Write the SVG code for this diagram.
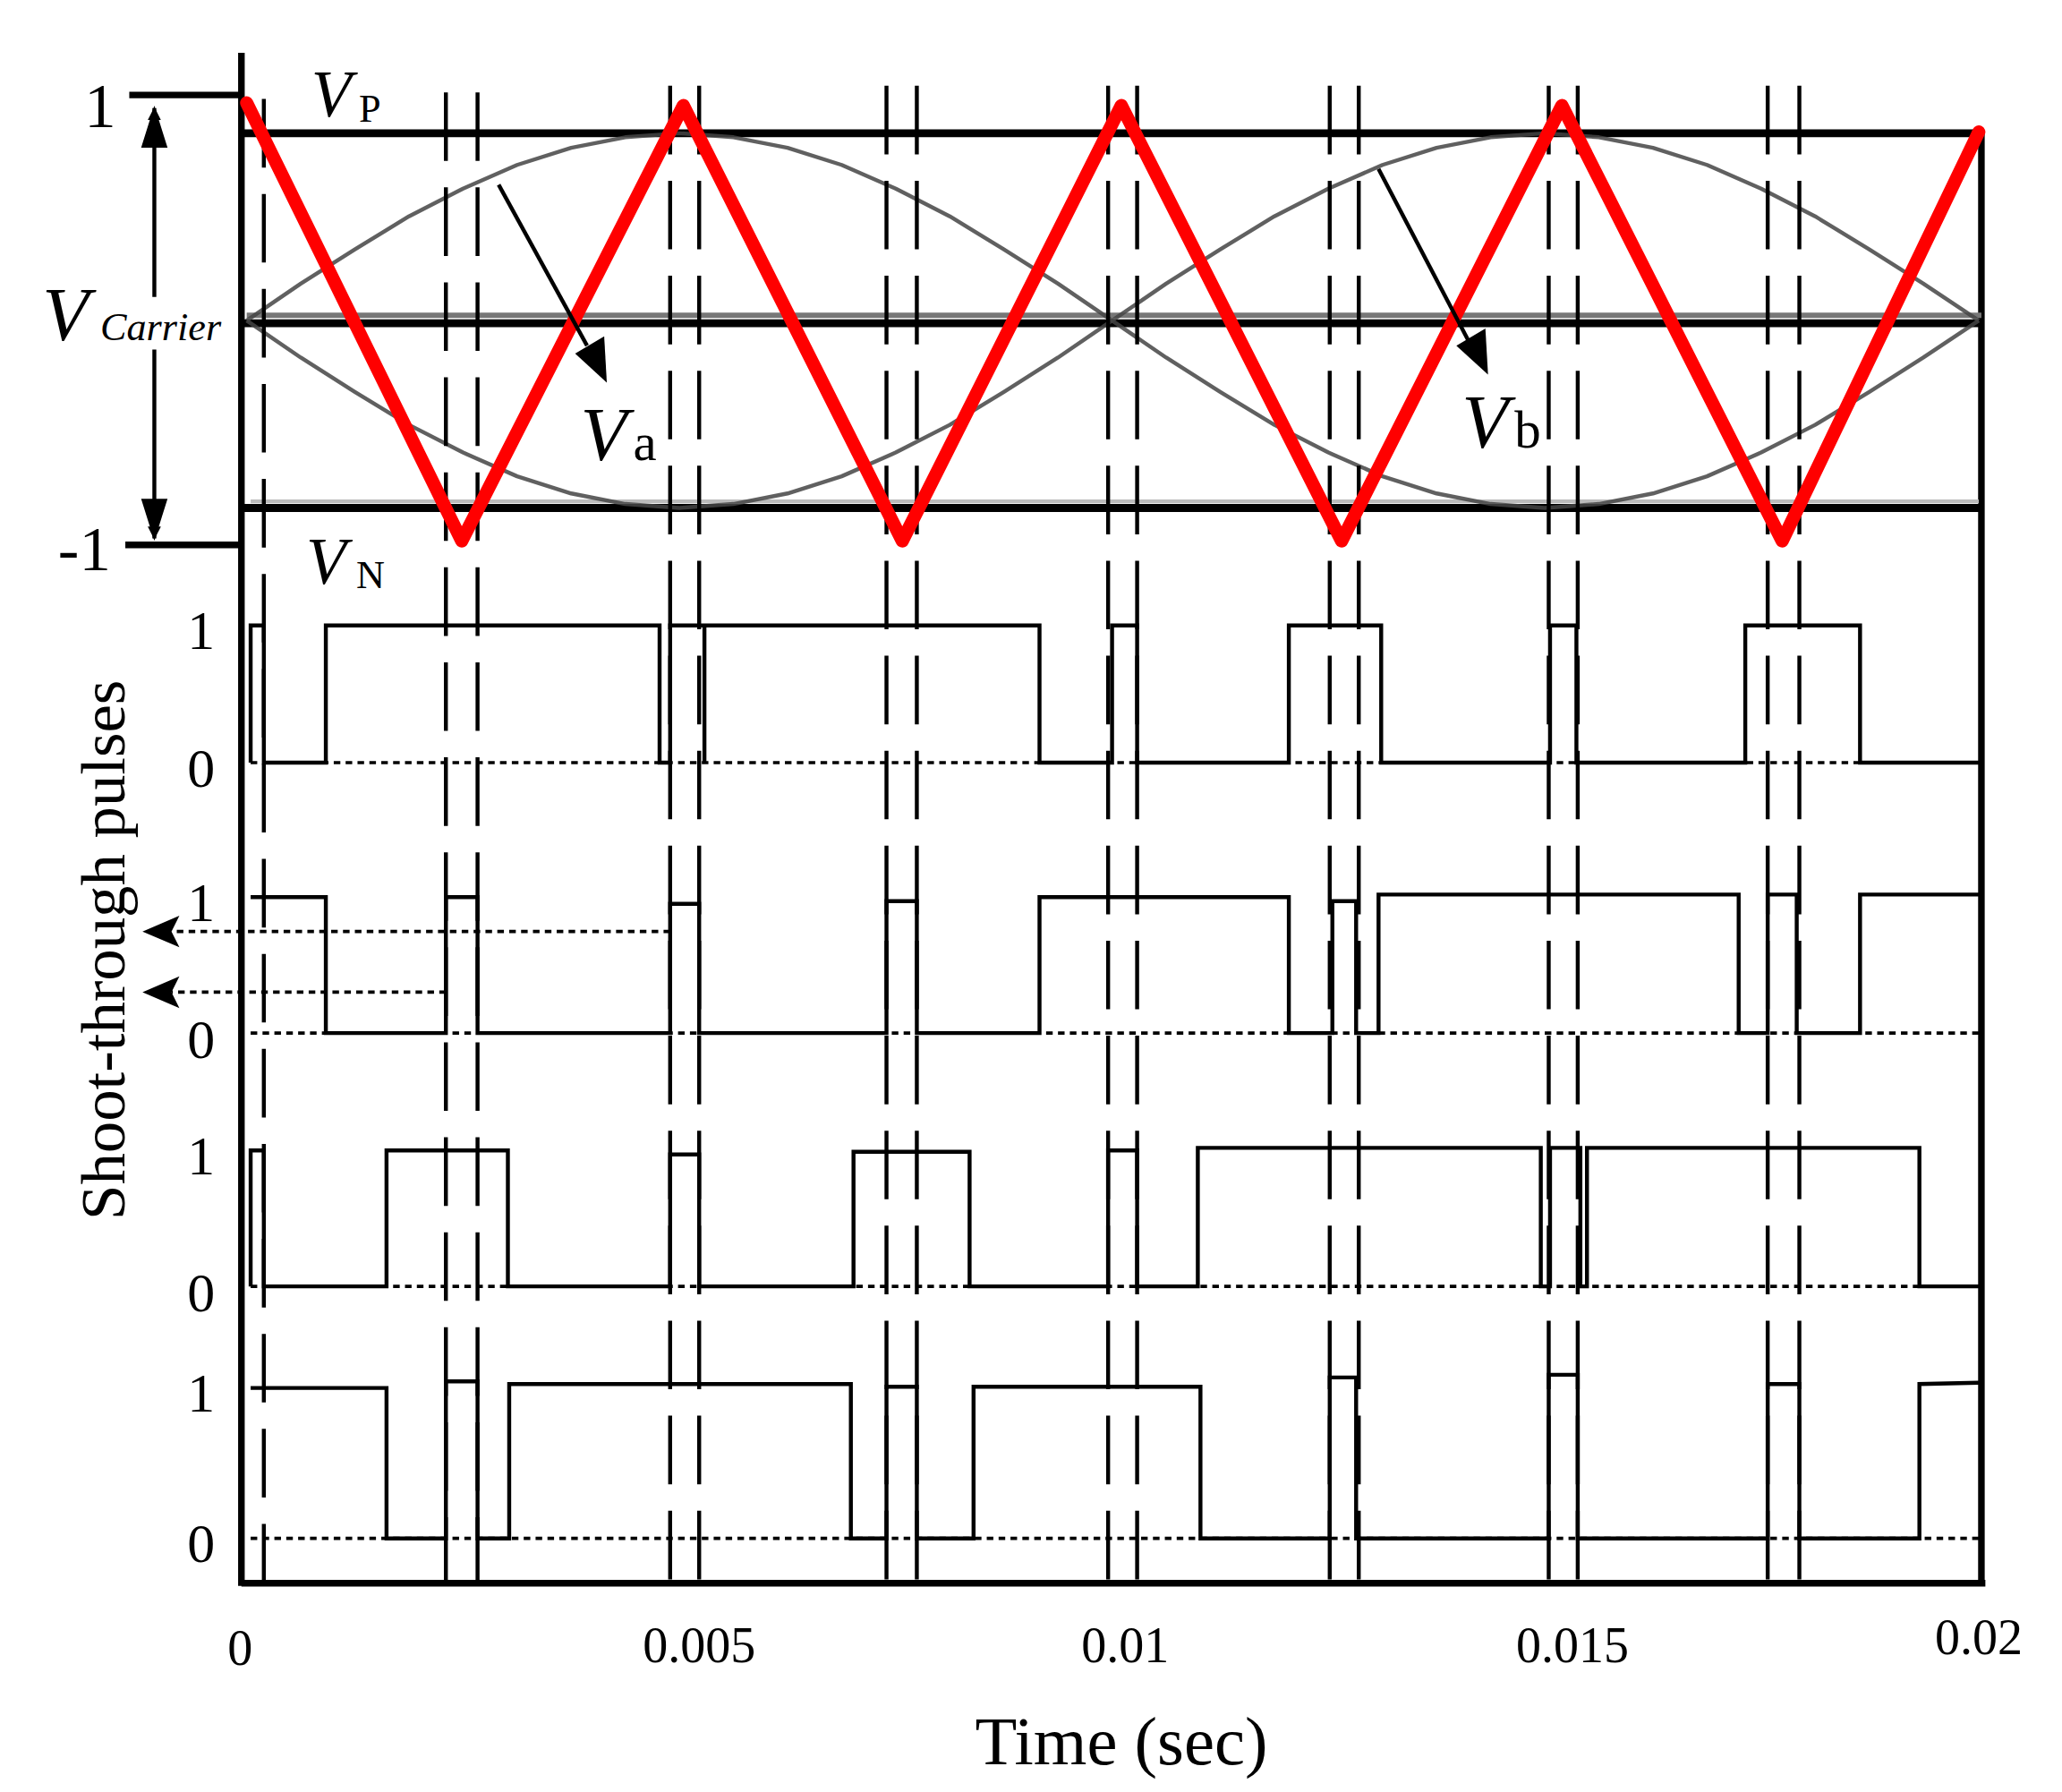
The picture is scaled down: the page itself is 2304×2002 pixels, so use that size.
<svg xmlns="http://www.w3.org/2000/svg" width="2304" height="2002" viewBox="0 0 2304 2002">
<style>
.ax{stroke:#000;stroke-width:5;fill:none}
.thk{stroke:#000;stroke-width:6;fill:none}
.dash{stroke:#000;stroke-width:3;stroke-dasharray:52 20;fill:none}
.dot{stroke:#000;stroke-width:2.5;stroke-dasharray:5 4;fill:none}
.pl{stroke:#000;stroke-width:3;fill:none;stroke-linejoin:miter}
.sine{stroke:#444;stroke-width:3;fill:none;opacity:0.85;stroke-linejoin:round}
.tx{font-family:"Liberation Serif",serif;fill:#000}
.it{font-family:"Liberation Serif",serif;font-style:italic;fill:#000}
</style>
<defs>
<marker id="ah" markerWidth="10" markerHeight="10" refX="9" refY="5" orient="auto" markerUnits="userSpaceOnUse" viewBox="0 0 10 10"><path d="M0,0 L10,5 L0,10 z" fill="#000"/></marker>
</defs>
<rect width="2304" height="2002" fill="#fff"/>
<g transform="scale(1.474)">
<g id="axes">
<line class="ax" x1="183" y1="40" x2="183" y2="1202"/>
<line class="ax" x1="1502" y1="100" x2="1502" y2="1202"/>
<line class="ax" x1="183" y1="1200" x2="1505" y2="1200"/>
<line class="thk" x1="183" y1="101" x2="1502" y2="101"/>
<line stroke="#777" stroke-width="4" x1="187" y1="239" x2="1502" y2="239"/>
<line class="thk" x1="183" y1="245" x2="1502" y2="245"/>
<line stroke="#bbb" stroke-width="3" x1="190" y1="380" x2="1500" y2="380"/>
<line class="thk" x1="183" y1="385" x2="1502" y2="385"/>
<line class="ax" x1="98" y1="72" x2="183" y2="72"/>
<line class="ax" x1="95" y1="413" x2="183" y2="413"/>
</g>
<g id="sines">
<polyline class="sine" points="187,243 228,215 269,189 310,164 351,143 392,125 433,112 474,104 515,101 556,104 597,112 638,125 679,143 720,164 761,189 802,215 843,243 884,271 925,297 966,322 1007,343 1048,361 1089,374 1130,382 1171,385 1212,382 1253,374 1294,361 1335,343 1376,322 1417,297 1458,271 1500,243"/>
<polyline class="sine" points="187,243 228,271 269,297 310,322 351,343 392,361 433,374 474,382 515,385 556,382 597,374 638,361 679,343 720,322 761,297 802,271 843,243 884,215 925,189 966,164 1007,143 1048,125 1089,112 1130,104 1171,101 1212,104 1253,112 1294,125 1335,143 1376,164 1417,189 1458,215 1500,243"/>
</g>
<g id="dashes">
<line class="dash" x1="200" y1="75" x2="200" y2="1200"/>
<line class="dash" x1="338" y1="70" x2="338" y2="1200"/><line class="dash" x1="362" y1="70" x2="362" y2="1200"/>
<line class="dash" x1="508" y1="65" x2="508" y2="1200"/><line class="dash" x1="530" y1="65" x2="530" y2="1200"/>
<line class="dash" x1="672" y1="65" x2="672" y2="1200"/><line class="dash" x1="695" y1="65" x2="695" y2="1200"/>
<line class="dash" x1="840" y1="65" x2="840" y2="1200"/><line class="dash" x1="862" y1="65" x2="862" y2="1200"/>
<line class="dash" x1="1008" y1="65" x2="1008" y2="1200"/><line class="dash" x1="1030" y1="65" x2="1030" y2="1200"/>
<line class="dash" x1="1174" y1="65" x2="1174" y2="1200"/><line class="dash" x1="1196" y1="65" x2="1196" y2="1200"/>
<line class="dash" x1="1340" y1="65" x2="1340" y2="1200"/><line class="dash" x1="1364" y1="65" x2="1364" y2="1200"/>
</g>
<g id="carrier">
<polyline points="187,78 350,410 518,80 684,410 850,80 1017,410 1184,80 1351,410 1500,100" fill="none" stroke="#f00" stroke-width="10" stroke-linejoin="round" stroke-linecap="round"/>
</g>
<g id="pulses">
<line class="dot" x1="190" y1="578" x2="1500" y2="578"/>
<line class="dot" x1="190" y1="783" x2="1500" y2="783"/>
<line class="dot" x1="190" y1="975" x2="1500" y2="975"/>
<line class="dot" x1="190" y1="1166" x2="1500" y2="1166"/>
<polyline class="pl" points="190,578 190,474 200,474 200,578 247,578 247,474 500,474 500,578 508,578 508,474 788,474 788,578 843,578 843,474 862,474 862,578 977,578 977,474 1047,474 1047,578 1175,578 1175,474 1195,474 1195,578 1323,578 1323,474 1410,474 1410,578 1500,578"/>
<line class="pl" x1="534" y1="474" x2="534" y2="578" stroke-width="5"/>
<polyline class="pl" points="190,680 247,680 247,783 338,783 338,680 362,680 362,783 508,783 508,685 530,685 530,783 672,783 672,683 695,683 695,783 788,783 788,680 977,680 977,783 1010,783 1010,683 1028,683 1028,783 1045,783 1045,678 1318,678 1318,783 1340,783 1340,678 1362,678 1362,783 1410,783 1410,678 1500,678"/>
<polyline class="pl" points="190,975 190,872 200,872 200,975 293,975 293,872 385,872 385,975 508,975 508,875 530,875 530,975 647,975 647,873 735,873 735,975 840,975 840,872 862,872 862,975 908,975 908,870 1168,870 1168,975 1175,975 1175,870 1198,870 1198,975 1203,975 1203,870 1455,870 1455,975 1500,975"/>
<polyline class="pl" points="190,1052 293,1052 293,1166 338,1166 338,1047 362,1047 362,1166 386,1166 386,1049 645,1049 645,1166 672,1166 672,1051 695,1051 695,1166 738,1166 738,1051 910,1051 910,1166 1008,1166 1008,1044 1028,1044 1028,1166 1174,1166 1174,1042 1196,1042 1196,1166 1340,1166 1340,1049 1364,1049 1364,1166 1455,1166 1455,1049 1500,1048"/>
</g>
<g id="connectors">
<line x1="117" y1="225" x2="117" y2="82" stroke="#000" stroke-width="3" marker-end="url(#ah)"/>
<line x1="117" y1="265" x2="117" y2="408" stroke="#000" stroke-width="3" marker-end="url(#ah)"/>
<path d="M117,80 l-10,32 l20,0 z M117,410 l-10,-32 l20,0 z" fill="#000"/>
<line x1="378" y1="140" x2="445" y2="262" stroke="#000" stroke-width="3"/>
<path d="M460,290 l-2,-35 l-22,13 z" fill="#000"/>
<line x1="1045" y1="128" x2="1113" y2="258" stroke="#000" stroke-width="3"/>
<path d="M1128,284 l-2,-35 l-22,13 z" fill="#000"/>
<line class="dot" x1="508" y1="706" x2="130" y2="706"/>
<path d="M108,706 l28,-12 l-6,12 l6,12 z" fill="#000"/>
<line class="dot" x1="338" y1="752" x2="130" y2="752"/>
<path d="M108,752 l28,-12 l-6,12 l6,12 z" fill="#000"/>
</g>
<g id="labels">
<text class="tx" x="64" y="96" font-size="48">1</text>
<text class="tx" x="44" y="432" font-size="48">-1</text>
<text class="it" x="236" y="88" font-size="50">V</text><text class="tx" x="272" y="92" font-size="30">P</text>
<text class="it" x="232" y="442" font-size="50">V</text><text class="tx" x="270" y="446" font-size="30">N</text>
<text class="it" x="32" y="258" font-size="58">V</text><text class="it" x="76" y="258" font-size="30">Carrier</text>
<text class="it" x="440" y="349" font-size="58">V</text><text class="tx" x="480" y="349" font-size="40">a</text>
<text class="it" x="1108" y="339" font-size="58">V</text><text class="tx" x="1148" y="339" font-size="40">b</text>
<text class="tx" x="142" y="492" font-size="42">1</text><text class="tx" x="142" y="596" font-size="42">0</text>
<text class="tx" x="142" y="698" font-size="42">1</text><text class="tx" x="142" y="802" font-size="42">0</text>
<text class="tx" x="142" y="890" font-size="42">1</text><text class="tx" x="142" y="994" font-size="42">0</text>
<text class="tx" x="142" y="1070" font-size="42">1</text><text class="tx" x="142" y="1184" font-size="42">0</text>
<text class="tx" transform="translate(94,720) rotate(-90)" text-anchor="middle" font-size="48">Shoot-through pulses</text>
<g font-size="38" text-anchor="middle" class="tx">
<text x="182" y="1262">0</text>
<text x="530" y="1260">0.005</text>
<text x="853" y="1260">0.01</text>
<text x="1192" y="1260">0.015</text>
<text x="1500" y="1254">0.02</text>
</g>
<text class="tx" x="850" y="1337" font-size="52" text-anchor="middle">Time (sec)</text>
</g>
</g>
</svg>
